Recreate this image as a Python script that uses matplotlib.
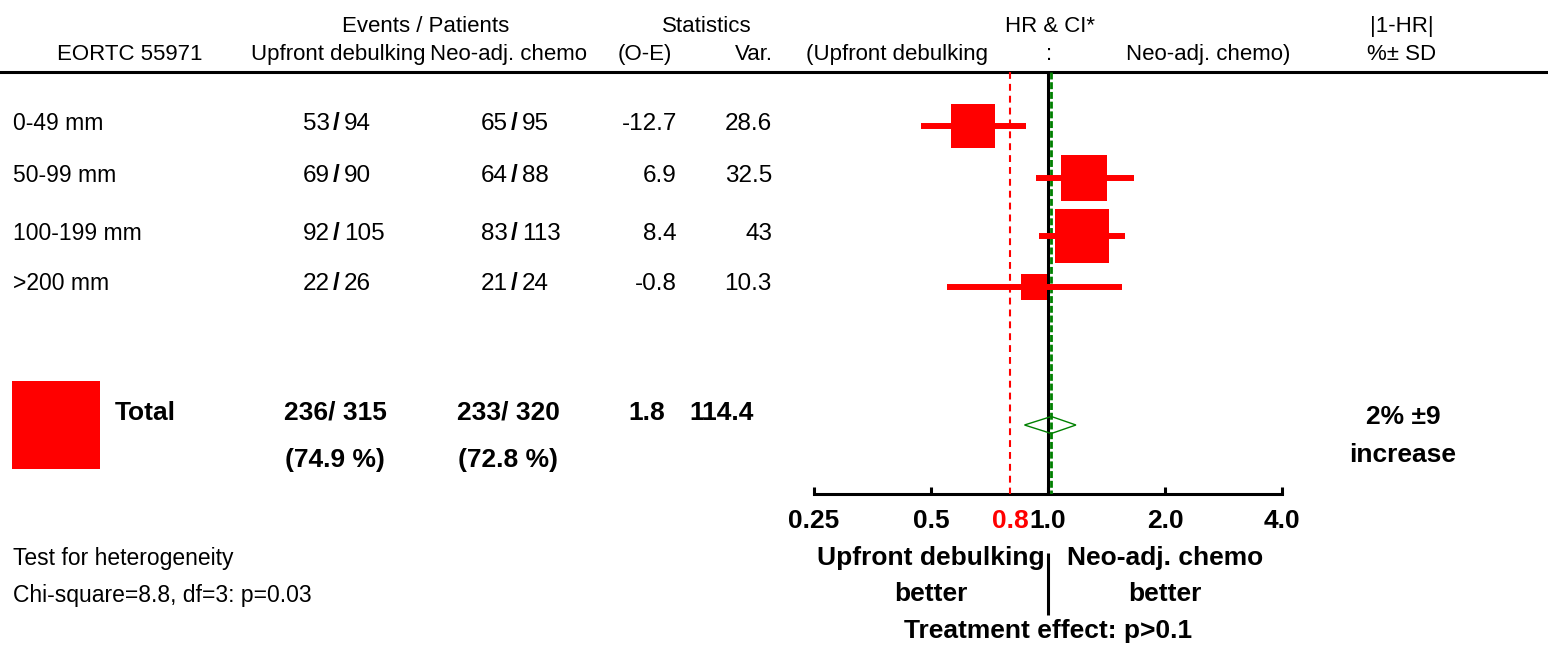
import numpy as np
import matplotlib.pyplot as plt
from matplotlib.patches import Polygon

# ---- data ----
subgroups = ['0-49 mm', '50-99 mm', '100-199 mm', '>200 mm']
events_up = [53, 69, 92, 22]
patients_up = [94, 90, 105, 26]
events_neo = [65, 64, 83, 21]
patients_neo = [95, 88, 113, 24]
o_minus_e = [-12.7, 6.9, 8.4, -0.8]
variance = [28.6, 32.5, 43, 10.3]
hr = [0.64, 1.24, 1.22, 0.92]
hr_low = [0.47, 0.93, 0.95, 0.55]
hr_high = [0.88, 1.66, 1.58, 1.55]

total_events = [236, 233]
total_patients = [315, 320]
total_pct = [74.9, 72.8]
total_oe = 1.8
total_var = 114.4
total_hr = 1.02
total_low = 0.87
total_high = 1.18
ref_hr = 0.8

ticks = [0.25, 0.5, 1.0, 2.0, 4.0]
tick_labels = ['0.25', '0.5', '1.0', '2.0', '4.0']

plt.rcParams['font.family'] = ['Liberation Sans', 'DejaVu Sans']
RED = '#ff0000'
GREEN = '#008000'
fs = 17.5    # regular numbers
fsh = 16     # header words
fsw = 16.5   # row labels / notes
fsb = 19     # bold text

W, H = 1548, 648
fig = plt.figure(figsize=(W / 100, H / 100), dpi=100)

# text layer in pixel coordinates
ax = fig.add_axes([0, 0, 1, 1])
ax.set_xlim(0, W)
ax.set_ylim(H, 0)
ax.axis('off')

# forest panel: log2 HR scale, y in pixels
x0, x1, y_axis = 814, 1282, 494
fx = fig.add_axes([x0 / W, (H - y_axis) / H, (x1 - x0) / W, y_axis / H])
fx.set_xscale('log', base=2)
fx.set_xlim(0.25, 4)
fx.set_ylim(y_axis, 0)
fx.patch.set_visible(False)
for s in ['left', 'right', 'top']:
    fx.spines[s].set_visible(False)
fx.spines['bottom'].set_linewidth(2.2)
fx.set_yticks([])
fx.set_xticks(ticks, tick_labels)
fx.set_xticks([ref_hr], ['0.8'], minor=True)
fx.tick_params(axis='x', which='major', direction='in', length=5, width=2.2,
               pad=11, labelsize=fsb)
fx.tick_params(axis='x', which='minor', length=0, pad=11, labelsize=fsb,
               labelcolor=RED)
for lab in fx.get_xticklabels() + fx.get_xticklabels(minor=True):
    lab.set_fontweight('bold')

# header
rule_y = 72
ax.plot([0, W], [rule_y, rule_y], color='black', lw=2.2)
hdr1 = [('Events / Patients', 426, 'center'), ('Statistics', 707, 'center'),
        ('HR & CI*', 1050, 'center'), ('|1-HR|', 1402, 'center')]
hdr2 = [('EORTC 55971', 130, 'center'), ('Upfront debulking', 338, 'center'),
        ('Neo-adj. chemo', 508, 'center'), ('(O-E)', 645, 'center'),
        ('Var.', 773, 'right'), ('(Upfront debulking', 806, 'left'),
        (':', 1049, 'center'), ('Neo-adj. chemo)', 1290, 'right'),
        ('%± SD', 1402, 'center')]
for t, x, ha in hdr1:
    ax.text(x, 32, t, ha=ha, va='baseline', fontsize=fsh)
for t, x, ha in hdr2:
    ax.text(x, 60, t, ha=ha, va='baseline', fontsize=fsh)

# reference lines
fx.vlines(1.0, rule_y, y_axis, color='black', lw=2.2, zorder=3)
fx.vlines(ref_hr, rule_y, y_axis, color=RED, lw=1.5, linestyles=(0, (3.3, 2.4)), zorder=3)
fx.vlines(total_hr, rule_y, y_axis, color=GREEN, lw=2.0, linestyles=(0, (2.5, 1.0)), zorder=4)

# subgroup rows
row_y = [126, 178, 236, 287]
k = 8.2  # box side in px per sqrt(variance)
for i, y in enumerate(row_y):
    yb = y + 3.5
    ax.text(13, yb, subgroups[i], ha='left', va='baseline', fontsize=fsw)
    for xs, ev, n in [(330, events_up[i], patients_up[i]), (508, events_neo[i], patients_neo[i])]:
        ax.text(xs, yb, str(ev), ha='right', va='baseline', fontsize=fs)
        ax.text(xs + 6, yb, '/', ha='center', va='baseline', fontsize=fs, fontweight='bold')
        ax.text(xs + 14, yb, str(n), ha='left', va='baseline', fontsize=fs)
    ax.text(677, yb, f'{o_minus_e[i]:.1f}', ha='right', va='baseline', fontsize=fs)
    ax.text(772, yb, f'{variance[i]:g}', ha='right', va='baseline', fontsize=fs)
    fx.hlines(y, hr_low[i], hr_high[i], color=RED, lw=4.3, zorder=5)
    fx.plot(hr[i], y, marker='s', color=RED, mew=0,
            markersize=k * np.sqrt(variance[i]) * 0.72, zorder=6)

# total row
ty = 425
ax.plot(56, ty, marker='s', color=RED, mew=0,
        markersize=k * np.sqrt(total_var) * 0.72)
ax.text(115, 420, 'Total', ha='left', va='baseline', fontsize=fsb, fontweight='bold')
for xc, ev, n, p in [(335, total_events[0], total_patients[0], total_pct[0]),
                     (508, total_events[1], total_patients[1], total_pct[1])]:
    ax.text(xc, 420, f'{ev}/ {n}', ha='center', va='baseline', fontsize=fsb, fontweight='bold')
    ax.text(xc, 467, f'({p} %)', ha='center', va='baseline', fontsize=fsb, fontweight='bold')
ax.text(665, 420, f'{total_oe}', ha='right', va='baseline', fontsize=fsb, fontweight='bold')
ax.text(754, 420, f'{total_var}', ha='right', va='baseline', fontsize=fsb, fontweight='bold')
hh = 8.5
fx.add_patch(Polygon([(total_low, ty), (total_hr, ty - hh), (total_high, ty), (total_hr, ty + hh)],
                     closed=True, facecolor='none', edgecolor=GREEN, lw=1.0, zorder=5))
ax.text(1403, 424, '2% ±9', ha='center', va='baseline', fontsize=fsb, fontweight='bold')
ax.text(1403, 462, 'increase', ha='center', va='baseline', fontsize=fsb, fontweight='bold')

# heterogeneity
ax.text(13, 565, 'Test for heterogeneity', ha='left', va='baseline', fontsize=fsw)
ax.text(13, 602, 'Chi-square=8.8, df=3: p=0.03', ha='left', va='baseline', fontsize=fsw)

# bottom labels under the HR axis
fx.vlines(1.0, 553, 615, color='black', lw=2.2, clip_on=False)
fx.text(0.5, 565, 'Upfront debulking', ha='center', va='baseline', fontsize=fsb, fontweight='bold')
fx.text(0.5, 601, 'better', ha='center', va='baseline', fontsize=fsb, fontweight='bold')
fx.text(2.0, 565, 'Neo-adj. chemo', ha='center', va='baseline', fontsize=fsb, fontweight='bold')
fx.text(2.0, 601, 'better', ha='center', va='baseline', fontsize=fsb, fontweight='bold')
fx.text(1.0, 638, 'Treatment effect: p>0.1', ha='center', va='baseline', fontsize=fsb, fontweight='bold')

fig.savefig('out.png', dpi=100)
